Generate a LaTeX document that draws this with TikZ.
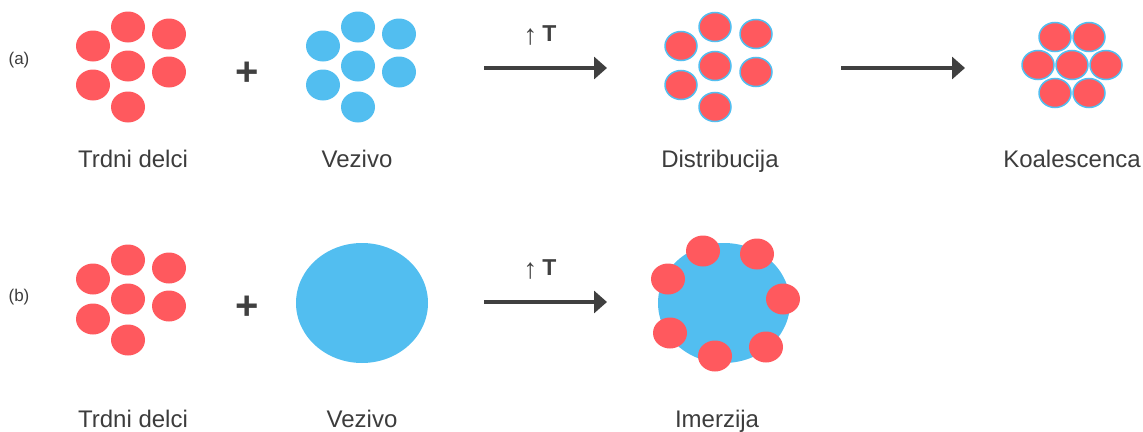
\documentclass[tikz,border=0pt]{standalone}
\usepackage{fontspec}
\setmainfont{Liberation Sans}
\usetikzlibrary{shapes.geometric, arrows.meta}

\definecolor{particleRed}{HTML}{FF595E}
\definecolor{binderBlue}{HTML}{52BEF0}
\definecolor{arrowGray}{HTML}{404040}
\definecolor{textGray}{HTML}{3C3C3C}

\newcommand{\heatup}{{\fontsize{28}{30}\selectfont\raisebox{-3pt}{↑}}\hspace{5pt}\textbf{T}}

\begin{document}
\begin{tikzpicture}[x=1pt, y=-1pt]

% Define particle and label styles
\tikzstyle{grain} = [ellipse, fill=particleRed, minimum width=34pt, minimum height=31pt, inner sep=0pt]
\tikzstyle{drop} = [ellipse, fill=binderBlue, minimum width=34pt, minimum height=31pt, inner sep=0pt]
\tikzstyle{coated} = [grain, draw=binderBlue, line width=1.5pt, minimum width=32pt, minimum height=29pt]
\tikzstyle{blob} = [ellipse, fill=binderBlue, minimum width=132pt, minimum height=120pt, inner sep=0pt]
\tikzstyle{caption} = [text=textGray, font=\fontsize{24}{28}\selectfont, anchor=base]
\tikzstyle{tag} = [text=textGray, font=\fontsize{17}{20}\selectfont]
\tikzstyle{plusSign} = [text=arrowGray, font=\fontsize{40}{44}\selectfont\bfseries, inner sep=0pt]
\tikzstyle{heat} = [text=arrowGray, font=\fontsize{23}{27}\selectfont, anchor=base, inner sep=0pt]
\tikzstyle{arrow} = [-{Triangle[length=13pt, width=22pt]}, line width=4pt, draw=arrowGray]

\useasboundingbox (0,0) rectangle (1143,431);

% Row (a): solid particles
\node[tag] (tagA) at (19,60) {(a)};
\node[grain] (grainA1) at (128,27) {};
\node[grain] (grainA2) at (169,34) {};
\node[grain] (grainA3) at (93,46) {};
\node[grain] (grainA4) at (128,66) {};
\node[grain] (grainA5) at (169,72) {};
\node[grain] (grainA6) at (93,85) {};
\node[grain] (grainA7) at (128,107) {};
\node[caption] (solidsA) at (133,167) {Trdni delci};

\node[plusSign] (plusA) at (247,74) {+};

% Row (a): binder droplets
\node[drop] (dropA1) at (358,27) {};
\node[drop] (dropA2) at (399,34) {};
\node[drop] (dropA3) at (323,46) {};
\node[drop] (dropA4) at (358,66) {};
\node[drop] (dropA5) at (399,72) {};
\node[drop] (dropA6) at (323,85) {};
\node[drop] (dropA7) at (358,107) {};
\node[caption] (binderA) at (357,167) {Vezivo};

% Row (a): heating arrow
\node[heat] (heatA) at (540,41) {\heatup};
\coordinate (heatAStart) at (484,68);
\coordinate (heatAEnd) at (607,68);
\draw[arrow] (heatAStart) -- (heatAEnd);

% Row (a): coated particles
\node[coated] (coatA1) at (715,27) {};
\node[coated] (coatA2) at (756,34) {};
\node[coated] (coatA3) at (681,46) {};
\node[coated] (coatA4) at (715,66) {};
\node[coated] (coatA5) at (756,72) {};
\node[coated] (coatA6) at (681,85) {};
\node[coated] (coatA7) at (715,107) {};
\node[caption] (distribution) at (720,167) {Distribucija};

\coordinate (mergeStart) at (841,68);
\coordinate (mergeEnd) at (965,68);
\draw[arrow] (mergeStart) -- (mergeEnd);

% Row (a): coalesced cluster
\node[coated] (mergeA1) at (1055,37) {};
\node[coated] (mergeA2) at (1089,37) {};
\node[coated] (mergeA3) at (1038,65) {};
\node[coated] (mergeA4) at (1072,65) {};
\node[coated] (mergeA5) at (1106,65) {};
\node[coated] (mergeA6) at (1055,93) {};
\node[coated] (mergeA7) at (1089,93) {};
\node[caption] (coalescence) at (1072,167) {Koalescenca};

% Row (b): solid particles
\node[tag] (tagB) at (19,297) {(b)};
\node[grain] (grainB1) at (128,260) {};
\node[grain] (grainB2) at (169,268) {};
\node[grain] (grainB3) at (93,279) {};
\node[grain] (grainB4) at (128,299) {};
\node[grain] (grainB5) at (169,306) {};
\node[grain] (grainB6) at (93,319) {};
\node[grain] (grainB7) at (128,340) {};
\node[caption] (solidsB) at (133,427) {Trdni delci};

\node[plusSign] (plusB) at (247,308) {+};

% Row (b): binder as one large drop
\node[blob] (binderBlob) at (362,303) {};
\node[caption] (binderB) at (362,427) {Vezivo};

% Row (b): heating arrow
\node[heat] (heatB) at (540,275) {\heatup};
\coordinate (heatBStart) at (484,302);
\coordinate (heatBEnd) at (607,302);
\draw[arrow] (heatBStart) -- (heatBEnd);

% Row (b): particles sitting on the binder
\node[blob] (immersedBlob) at (724,303) {};
\node[grain] (grainC1) at (703,251) {};
\node[grain] (grainC2) at (757,254) {};
\node[grain] (grainC3) at (668,279) {};
\node[grain] (grainC4) at (783,299) {};
\node[grain] (grainC5) at (670,333) {};
\node[grain] (grainC6) at (715,356) {};
\node[grain] (grainC7) at (766,347) {};
\node[caption] (immersion) at (717,427) {Imerzija};

\end{tikzpicture}
\end{document}
